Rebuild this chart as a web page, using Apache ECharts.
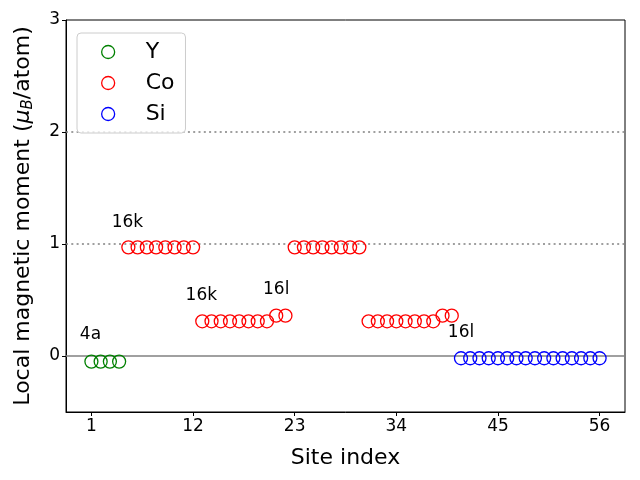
<!DOCTYPE html>
<html><head><meta charset="utf-8">
<script src="https://cdn.jsdelivr.net/npm/echarts@6/dist/echarts.min.js"></script>
<style>html,body{margin:0;padding:0;background:#fff}#c{width:640px;height:480px}</style>
</head><body><div id="c"></div>
<script>
var ySites = [1, 2, 3, 4];
var yVals = [-0.05, -0.05, -0.05, -0.05];
var coSites = [5,6,7,8,9,10,11,12,13,14,15,16,17,18,19,20,21,22,23,24,25,26,27,28,29,30,31,32,33,34,35,36,37,38,39,40];
var coVals = [0.97,0.97,0.97,0.97,0.97,0.97,0.97,0.97,
              0.31,0.31,0.31,0.31,0.31,0.31,0.31,0.31,0.36,0.36,
              0.97,0.97,0.97,0.97,0.97,0.97,0.97,0.97,
              0.31,0.31,0.31,0.31,0.31,0.31,0.31,0.31,0.36,0.36];
var siSites = [41,42,43,44,45,46,47,48,49,50,51,52,53,54,55,56];
var siVals = [-0.02,-0.02,-0.02,-0.02,-0.02,-0.02,-0.02,-0.02,-0.02,-0.02,-0.02,-0.02,-0.02,-0.02,-0.02,-0.02];
var xTicks = [1, 12, 23, 34, 45, 56];
var yTicks = [0, 1, 2, 3];
var annoText = ['4a', '16k', '16k', '16l', '16l'];
var annoX = [0.9, 4.9, 12.9, 21.0, 41.0];
var annoY = [0.19, 1.19, 0.54, 0.59, 0.21];
var dottedLevels = [1, 2];
var solidLevels = [0];

function pairs(xs, ys) { return xs.map(function (x, i) { return [x, ys[i]]; }); }

var font = 'DejaVu Sans';
function scatter(name, xs, ys, color, extra) {
  var s = {
    name: name, type: 'scatter', data: pairs(xs, ys),
    symbol: 'circle', symbolSize: 13,
    itemStyle: { color: 'rgba(255,255,255,0)', borderColor: color, borderWidth: 1.3, opacity: 1 },
    emphasis: { disabled: true }, z: 3
  };
  if (extra) for (var k in extra) s[k] = extra[k];
  return s;
}
var lines = [];
dottedLevels.forEach(function (v) { lines.push({ yAxis: v, lineStyle: { type: [2, 3.3], color: '#808080', width: 1.5 } }); });
solidLevels.forEach(function (v) { lines.push({ yAxis: v, lineStyle: { type: 'solid', color: '#808080', width: 1.5 } }); });

var chart = echarts.init(document.getElementById('c'), null, { renderer: 'canvas' });
chart.setOption({
  animation: false,
  textStyle: { fontFamily: font },
  grid: { left: 66, right: 15, top: 20, bottom: 68, show: true, borderColor: '#000', borderWidth: 1, backgroundColor: 'rgba(0,0,0,0)' },
  legend: {
    orient: 'vertical', left: 77, top: 33,
    padding: [8, 11, 8, 24],
    itemWidth: 13, itemHeight: 13, itemGap: 9,
    borderColor: '#cccccc', borderWidth: 1, borderRadius: 4,
    backgroundColor: 'rgba(255,255,255,0.8)',
    textStyle: { fontSize: 22, color: '#000', fontFamily: font, padding: [0, 0, 0, 26], lineHeight: 22 },
    data: [
      { name: 'Y', icon: 'circle', itemStyle: { color: 'rgba(255,255,255,0)', borderColor: '#008000', borderWidth: 1.3, opacity: 1 } },
      { name: 'Co', icon: 'circle', itemStyle: { color: 'rgba(255,255,255,0)', borderColor: '#ff0000', borderWidth: 1.3, opacity: 1 } },
      { name: 'Si', icon: 'circle', itemStyle: { color: 'rgba(255,255,255,0)', borderColor: '#0000ff', borderWidth: 1.3, opacity: 1 } }
    ]
  },
  xAxis: {
    type: 'value', min: -1.75, max: 58.75,
    name: 'Site index', nameLocation: 'middle', nameGap: 35,
    nameTextStyle: { fontSize: 22, color: '#000', fontFamily: font },
    splitLine: { show: false },
    axisLine: { show: true, onZero: false, lineStyle: { color: '#000', width: 1 } },
    axisTick: { show: true, inside: false, length: 4, lineStyle: { color: '#000' }, customValues: xTicks },
    axisLabel: { color: '#000', fontSize: 17, margin: 6, fontFamily: font, customValues: xTicks, showMinLabel: true, showMaxLabel: true }
  },
  yAxis: {
    type: 'value', min: -0.5, max: 3,
    name: '{n|Local magnetic moment (}{mu|μ}{sub|B}{n|/atom)}', nameLocation: 'middle', nameGap: 30,
    nameTextStyle: {
      fontSize: 22, color: '#000', fontFamily: font,
      rich: {
        n: { fontSize: 22, fontFamily: font, color: '#000' },
        mu: { fontSize: 22, fontFamily: font, fontStyle: 'italic', color: '#000' },
        sub: { fontSize: 15, fontFamily: font, fontStyle: 'italic', color: '#000', verticalAlign: 'bottom', padding: [10, 0, 0, 0] }
      }
    },
    splitLine: { show: false },
    axisLine: { show: true, onZero: false, lineStyle: { color: '#000', width: 1 } },
    axisTick: { show: true, inside: false, length: 4, lineStyle: { color: '#000' }, customValues: yTicks },
    axisLabel: { color: '#000', fontSize: 17, margin: 6, fontFamily: font, customValues: yTicks }
  },
  series: [
    scatter('Y', ySites, yVals, '#008000', {
      markLine: { silent: true, symbol: ['none', 'none'], label: { show: false }, animation: false, data: lines, z: 1 }
    }),
    scatter('Co', coSites, coVals, '#ff0000'),
    scatter('Si', siSites, siVals, '#0000ff'),
    {
      name: 'annotations', type: 'scatter', symbolSize: 1, silent: true, z: 4,
      data: annoX.map(function (x, i) { return { value: [x, annoY[i]], name: annoText[i] }; }),
      label: { show: true, position: 'inside', formatter: function (p) { return p.name; }, fontSize: 17, color: '#000000', textBorderWidth: 0, fontFamily: font },
      itemStyle: { color: 'rgba(0,0,0,0)', opacity: 1 }
    }
  ]
});
</script></body></html>
